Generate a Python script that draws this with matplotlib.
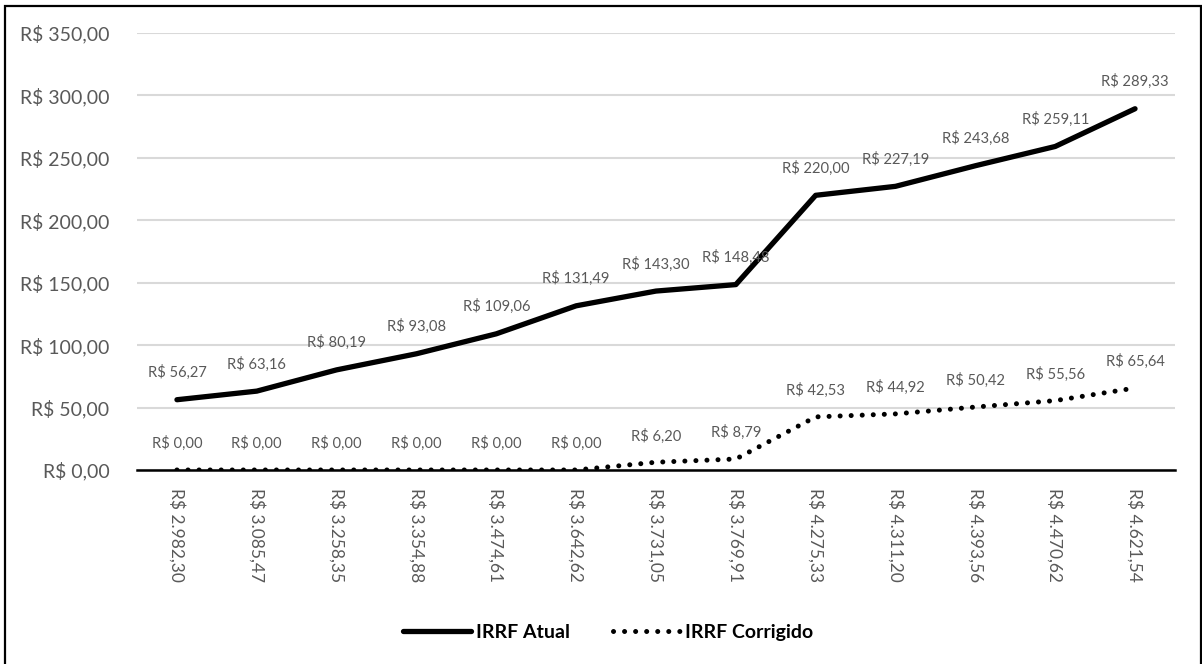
import matplotlib
matplotlib.use("Agg")
import matplotlib.pyplot as plt
from matplotlib.patches import Rectangle
from matplotlib.lines import Line2D
from matplotlib.ticker import FuncFormatter, MultipleLocator

# Salário bruto (faixas) e imposto retido
salarios = ["R$ 2.982,30", "R$ 3.085,47", "R$ 3.258,35", "R$ 3.354,88", "R$ 3.474,61",
            "R$ 3.642,62", "R$ 3.731,05", "R$ 3.769,91", "R$ 4.275,33", "R$ 4.311,20",
            "R$ 4.393,56", "R$ 4.470,62", "R$ 4.621,54"]
irrf_atual = [56.27, 63.16, 80.19, 93.08, 109.06, 131.49, 143.30, 148.48,
              220.00, 227.19, 243.68, 259.11, 289.33]
irrf_corrigido = [0.00, 0.00, 0.00, 0.00, 0.00, 0.00, 6.20, 8.79,
                  42.53, 44.92, 50.42, 55.56, 65.64]


def brl(v):
    s = f"{v:,.2f}"
    s = s.replace(",", "X").replace(".", ",").replace("X", ".")
    return f"R$ {s}"


plt.rcParams["font.family"] = ["Lato", "DejaVu Sans"]
GRAY = "#595959"

fig = plt.figure(figsize=(12.02, 6.64), dpi=100)
ax = fig.add_axes([0.114, 0.2922, 0.8635, 0.6581])

x = list(range(len(salarios)))
ax.plot(x, irrf_atual, color="black", lw=3.8, solid_joinstyle="round",
        solid_capstyle="round", zorder=3)
ax.plot(x, irrf_corrigido, color="black", lw=3.6, linestyle=(0, (0.01, 2.2)),
        dash_capstyle="round", zorder=3)

for xi, v in zip(x, irrf_atual):
    ax.annotate(brl(v), (xi, v), xytext=(0, 19.5), textcoords="offset points",
                ha="center", va="center", fontsize=10.6, color=GRAY, zorder=4)
for xi, v in zip(x, irrf_corrigido):
    ax.annotate(brl(v), (xi, v), xytext=(0, 19), textcoords="offset points",
                ha="center", va="center", fontsize=10.6, color=GRAY, zorder=4)

ax.set_xlim(-0.5, len(salarios) - 0.5)
ax.set_ylim(0, 350)
ax.yaxis.set_major_locator(MultipleLocator(50))
ax.yaxis.set_major_formatter(FuncFormatter(lambda v, p: brl(v)))
ax.set_xticks(x)
ax.set_xticklabels(salarios, rotation=270, fontsize=12.5, color=GRAY,
                   ha="center", va="top")
ax.tick_params(axis="y", length=0, pad=20, labelsize=14, labelcolor=GRAY)
ax.tick_params(axis="x", length=0, pad=13)

ax.grid(axis="y", color="#d9d9d9", lw=1.5)
ax.set_axisbelow(True)
for side in ("top", "right", "left"):
    ax.spines[side].set_visible(False)
ax.spines["bottom"].set_color("black")
ax.spines["bottom"].set_linewidth(1.8)
ax.spines["bottom"].set_zorder(2.5)

handles = [
    Line2D([], [], color="black", lw=3.8, solid_capstyle="round"),
    Line2D([], [], color="black", lw=3.6, linestyle=(0, (0.01, 2.2)),
           dash_capstyle="round"),
]
fig.legend(handles, ["IRRF Atual", "IRRF Corrigido"], loc="center",
           bbox_to_anchor=(0.506, 0.048), ncol=2, frameon=False,
           prop={"weight": "bold", "size": 14}, handlelength=3.5,
           columnspacing=2.2, handletextpad=0.25)

fig.patches.append(Rectangle((4.5 / 1202, -0.02), (1201 - 4.5) / 1202,
                             1 - 5.5 / 664 + 0.02,
                             transform=fig.transFigure, fill=False,
                             edgecolor="black", lw=1.6))

fig.savefig("out.png", dpi=100, facecolor="white")
